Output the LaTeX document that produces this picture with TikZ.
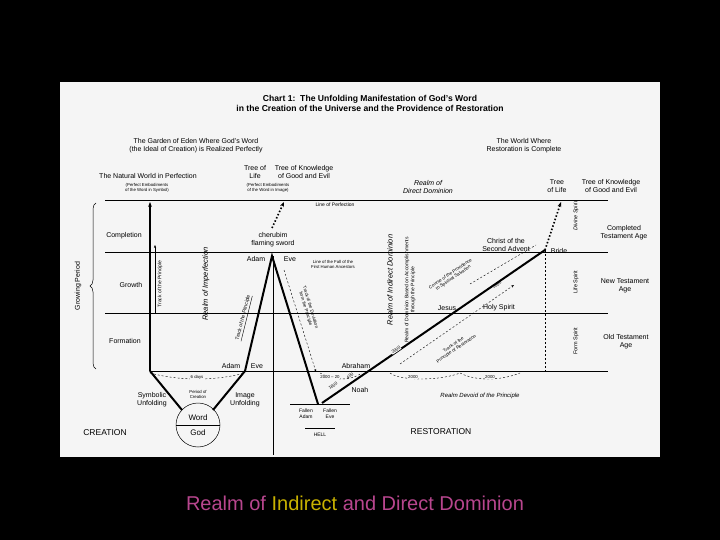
\documentclass[tikz,border=0pt]{standalone}
\usepackage{fontspec}
\setmainfont{Liberation Sans}
\usetikzlibrary{arrows.meta,decorations.pathreplacing}
\definecolor{pinkc}{HTML}{B8468E}
\definecolor{yelc}{HTML}{C9B200}
\definecolor{paper}{HTML}{F5F5F5}
\begin{document}
\begin{tikzpicture}[x=1pt,y=-1pt,
  lbl/.style={font=\fontsize{7}{8}\selectfont,align=center,inner sep=0.5pt},
  tiny/.style={font=\fontsize{4.3}{5}\selectfont,align=center,inner sep=0.5pt},
  ital/.style={font=\fontsize{7}{8}\selectfont\itshape,align=center,inner sep=0.5pt},
  big/.style={font=\fontsize{8.5}{9}\selectfont,inner sep=0.5pt},
  tk/.style={line width=2pt},
  gl/.style={line width=0.8pt},
  dsh/.style={dashed,line width=0.4pt,dash pattern=on 2pt off 2pt},
  dot/.style={line width=1.6pt,dash pattern=on 1.5pt off 2pt}]
\fill[black] (0,0) rectangle (720,540);
\fill[paper] (60,82) rectangle (660,457);
% titles
\node[font=\fontsize{8.6}{10}\selectfont\bfseries,align=center] (t) at (370,103) {Chart 1:\ \ The Unfolding Manifestation of God's Word\\in the Creation of the Universe and the Providence of Restoration};
\node[lbl] (eden) at (196,146) {The Garden of Eden Where God's Word\\(the Ideal of Creation) is Realized Perfectly};
\node[lbl] (world) at (524,146) {The World Where\\Restoration is Complete};
\node[lbl] (nat) at (148,176) {The Natural World in Perfection};
\node[tiny] (nats) at (147,188) {(Perfect Embodiments\\of the Word in Symbol)};
\node[lbl] (tol) at (255,172) {Tree of\\Life};
\node[lbl] (tok) at (304,172) {Tree of Knowledge\\of Good and Evil};
\node[tiny] (pe) at (268,188) {(Perfect Embodiments\\of the Word in Image)};
\node[ital] (rdd) at (428,187) {Realm of\\Direct Dominion};
\node[lbl] (tol2) at (557,186) {Tree\\of Life};
\node[lbl] (tok2) at (611,186) {Tree of Knowledge\\of Good and Evil};
% horizontal lines
\coordinate (L0) at (105,200); \coordinate (R0) at (608,200);
\coordinate (L1) at (105,252); \coordinate (R1) at (608,252);
\coordinate (L2) at (105,313); \coordinate (R2) at (608,313);
\coordinate (L3) at (150,371); \coordinate (R3) at (608,371);
\draw[gl] (L0)--(R0); \draw[gl] (L1)--(R1); \draw[gl] (L2)--(R2); \draw[gl] (L3)--(R3);
\node[tiny,font=\fontsize{5}{6}\selectfont] (lop) at (335,205) {Line of Perfection};
% growing period
\draw[decorate,decoration={brace,amplitude=6pt},line width=0.5pt] (96,369) -- (96,203);
\node[lbl,rotate=90] (gp) at (78,286) {Growing Period};
\node[lbl] (comp) at (124,236) {Completion};
\node[lbl] (grow) at (131,285) {Growth};
\node[lbl] (form) at (125,341) {Formation};
% natural world line
\draw[tk,-{Stealth[length=5pt]}] (L3) -- (150,202);
\node[tiny,rotate=90,font=\fontsize{5}{6}\selectfont] (tp1) at (160,284) {Track of the Principle};
\draw[line width=0.3pt,-{Stealth[length=3pt]}] (155,313) -- (155,245);
\node[ital,rotate=90,font=\fontsize{7.5}{8}\selectfont\itshape] (ri) at (206,284) {Realm of Imperfection};
% fall
\coordinate (AE) at (245,371); \coordinate (TOP) at (272,256); \coordinate (FA) at (318,404);
\draw[line width=0.4pt] (273,256) -- (273,455);
\draw[tk] (AE) -- (TOP) -- (FA);
\draw[dot,-{Stealth[length=5pt]}] (272,228) -- (284,202);
\node[lbl] (cher) at (273,240) {cherubim\\flaming sword};
\node[lbl] (adam1) at (256,259) {Adam};
\node[lbl] (eve1) at (290,259) {Eve};
\node[tiny] (lf) at (333,264) {Line of the Fall of the\\First Human Ancestors};
\node[tiny,rotate=76,font=\fontsize{5}{6}\selectfont] (tp2) at (244,318) {\underline{Track of the Principle}};
\node[tiny,rotate=-73,font=\fontsize{4.5}{5}\selectfont] (td) at (308,308) {Track of the Deviation\\from the Principle};
\draw[dsh,-{Stealth[length=3pt]}] (284,270) -- (316,372);
\node[lbl] (adam2) at (231,366) {Adam};
\node[lbl] (eve2) at (257,366) {Eve};
% creation bottom
\coordinate (SU) at (182,410); \coordinate (IU) at (213,410);
\draw[tk] (L3) -- (SU); \draw[tk] (AE) -- (IU);
\node[draw,circle,minimum size=44pt,line width=0.5pt,inner sep=0] (wg) at (198,425) {};
\draw[line width=0.4pt] (wg.west) -- (wg.east);
\node[lbl,font=\fontsize{8}{9}\selectfont] (word) at (198,418) {Word};
\node[lbl,font=\fontsize{8}{9}\selectfont] (god) at (198,433) {God};
\node[lbl] (symb) at (152,400) {Symbolic\\Unfolding};
\node[tiny] (poc) at (198,394) {Period of\\Creation};
\node[lbl] (img) at (245,400) {Image\\Unfolding};
\draw[dsh] (150,373) .. controls (180,381) and (215,381) .. (245,373);
\node[tiny,fill=paper] (sixd) at (197,377) {6 days};
\node[big] (cre) at (105,433) {CREATION};
% hell
\draw[line width=0.5pt] (290,404) -- (350,404);
\node[tiny,font=\fontsize{5}{6}\selectfont] (fa) at (306,414) {Fallen\\Adam};
\node[tiny,font=\fontsize{5}{6}\selectfont] (fe) at (330,414) {Fallen\\Eve};
\draw[line width=0.4pt] (305,428) -- (335,428);
\node[tiny,font=\fontsize{5}{6}\selectfont] (hell) at (320,435) {HELL};
% restoration
\coordinate (CS) at (545,250);
\draw[tk] (322,403) -- (CS);
\draw[dot,-{Stealth[length=5pt]}] (CS) -- (561,202);
\draw[dsh] (CS) -- (545,371);
\node[lbl] (noah) at (360,390) {Noah};
\node[tiny,rotate=34] (y1600) at (333,386) {1600};
\node[tiny,rotate=34] (y400) at (350,376) {400};
\node[lbl] (abr) at (356,366) {Abraham};
\node[tiny,rotate=34,fill=paper] (y2000a) at (396,350) {2000};
\draw[dsh,-{Stealth[length=3pt]}] (400,364) -- (514,285);
\node[tiny,rotate=34,font=\fontsize{4.5}{5}\selectfont] (tpr) at (455,347) {Track of the\\Principle of Restoration};
\draw[dsh] (470,284) -- (536,245);
\node[tiny,rotate=34,font=\fontsize{4.5}{5}\selectfont] (cps) at (452,276) {Course of the Providence\\to Spiritual Salvation};
\node[tiny,rotate=34] (y2000b) at (497,285) {2000};
\node[lbl] (jesus) at (447,308) {Jesus};
\node[lbl] (hs) at (499,308) {Holy Spirit};
\node[lbl] (csa) at (506,245) {Christ of the\\Second Advent};
\node[lbl] (bride) at (559,251) {Bride};
\node[ital,rotate=90,font=\fontsize{7.5}{8}\selectfont\itshape] (rid) at (390,280) {Realm of Indirect Dominion};
\node[tiny,rotate=90,font=\fontsize{5}{6}\selectfont] (rda) at (410,290) {Realm of Dominion Based on Accomplishments\\through the Principle};
\draw[dsh] (320,373) .. controls (335,381) and (350,381) .. (362,373);
\node[tiny,fill=paper] (y2000c) at (330,377) {2000 -- 20};
\draw[dsh] (390,373) .. controls (400,381) and (440,381) .. (460,373);
\node[tiny,fill=paper] (y2000d) at (413,377) {2000};
\draw[dsh] (460,373) .. controls (475,381) and (500,381) .. (520,373);
\node[tiny,fill=paper] (y2000e) at (490,377) {2000};
\node[ital,font=\fontsize{6}{7}\selectfont\itshape] (rdp) at (480,396) {Realm Devoid of the Principle};
\node[big] (res) at (441,432) {RESTORATION};
% right side
\node[tiny,rotate=90,font=\fontsize{5.5}{6}\selectfont\itshape] (ds) at (576,216) {Divine Spirit};
\node[tiny,rotate=90,font=\fontsize{5.5}{6}\selectfont] (ls) at (576,282) {Life Spirit};
\node[tiny,rotate=90,font=\fontsize{5.5}{6}\selectfont] (fs) at (576,341) {Form Spirit};
\node[lbl] (cta) at (624,233) {Completed\\Testament Age};
\node[lbl] (nta) at (625,286) {New Testament\\Age};
\node[lbl] (ota) at (626,342) {Old Testament\\Age};
% caption
\node[font=\fontsize{20}{22}\selectfont,text=pinkc] (cap) at (355,503) {Realm of \textcolor{yelc}{Indirect} and Direct Dominion};
\end{tikzpicture}
\end{document}
